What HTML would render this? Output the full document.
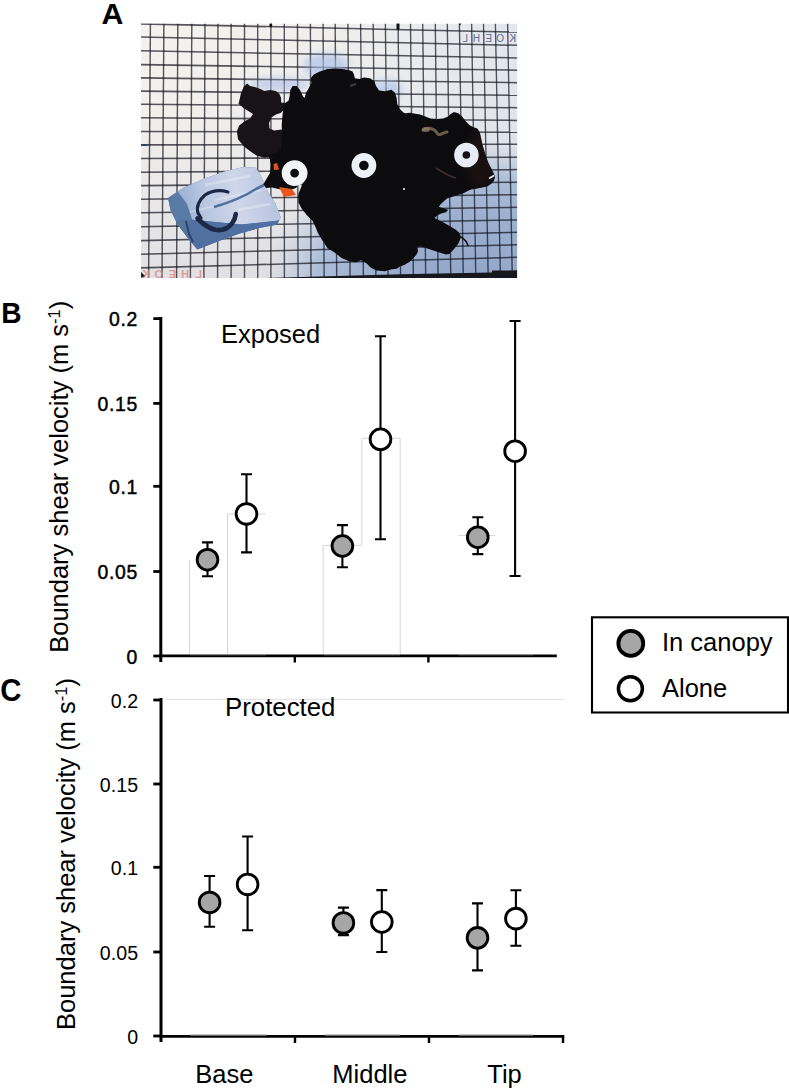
<!DOCTYPE html>
<html><head><meta charset="utf-8"><style>
html,body{margin:0;padding:0;background:#fff;}
svg{display:block;}
</style></head><body>
<svg width="789" height="1089" viewBox="0 0 789 1089">
<rect width="789" height="1089" fill="#fff"/>

<defs>
 <clipPath id="pc"><rect x="141" y="23.6" width="376.29999999999995" height="254.4"/></clipPath>
 <linearGradient id="paper" x1="0" y1="0" x2="1" y2="0">
  <stop offset="0" stop-color="#f4f2ee"/>
  <stop offset="0.5" stop-color="#f0efed"/>
  <stop offset="1" stop-color="#e2e6ee"/>
 </linearGradient>
 <linearGradient id="paperv" x1="0" y1="0" x2="0" y2="1">
  <stop offset="0" stop-color="#c6c6d4" stop-opacity="0"/>
  <stop offset="0.3" stop-color="#c6c6d4" stop-opacity="0.02"/>
  <stop offset="1" stop-color="#c6c6d4" stop-opacity="0.4"/>
 </linearGradient>
 <radialGradient id="bluetint" gradientUnits="userSpaceOnUse" cx="0" cy="0" r="1" gradientTransform="translate(470 285) scale(205 145)">
  <stop offset="0" stop-color="#90a5c9" stop-opacity="1"/>
  <stop offset="0.5" stop-color="#9db0d0" stop-opacity="1"/>
  <stop offset="0.75" stop-color="#a9bcd8" stop-opacity="0.95"/>
  <stop offset="0.88" stop-color="#b8c6dc" stop-opacity="0.5"/>
  <stop offset="1" stop-color="#c8d2e2" stop-opacity="0"/>
 </radialGradient>
 <linearGradient id="foilg" x1="0" y1="0" x2="1" y2="1">
  <stop offset="0" stop-color="#5f80b0"/>
  <stop offset="1" stop-color="#4d6e9f"/>
 </linearGradient>
 <linearGradient id="foilup" gradientUnits="userSpaceOnUse" x1="170" y1="200" x2="280" y2="180">
  <stop offset="0" stop-color="#8da7cf"/>
  <stop offset="0.3" stop-color="#b9c7e1"/>
  <stop offset="0.6" stop-color="#cfd6e9"/>
  <stop offset="1" stop-color="#b3c2de"/>
 </linearGradient>
 <filter id="blur3" x="-50%" y="-50%" width="200%" height="200%"><feGaussianBlur stdDeviation="4"/></filter>
 <filter id="blur1"><feGaussianBlur stdDeviation="0.6"/></filter>
</defs>
<g clip-path="url(#pc)">
 <rect x="141" y="23.6" width="376.29999999999995" height="254.4" fill="url(#paper)"/>
 <rect x="141" y="23.6" width="376.29999999999995" height="254.4" fill="url(#paperv)"/>
 <rect x="141" y="23.6" width="376.29999999999995" height="254.4" fill="url(#bluetint)"/>
 <g filter="url(#blur3)" fill="#b4c5e6" opacity="0.95">
  <ellipse cx="326" cy="66" rx="22" ry="11"/>
  <ellipse cx="280" cy="84" rx="30" ry="5"/>
  <ellipse cx="388" cy="90" rx="14" ry="8"/>
 </g>
 <g stroke="#0a0c16" stroke-opacity="0.68" fill="none"><path d="M150.4 23.6L148.6 278.0" stroke-width="1.45"/><path d="M163.9 23.6L162.0 278.0" stroke-width="1.45"/><path d="M177.8 23.6L176.6 278.0" stroke-width="1.44"/><path d="M191.8 23.6L190.4 278.0" stroke-width="1.44"/><path d="M205.0 23.6L203.9 278.0" stroke-width="1.44"/><path d="M217.9 23.6L217.6 278.0" stroke-width="1.43"/><path d="M231.1 23.6L231.1 278.0" stroke-width="1.43"/><path d="M244.5 23.6L244.5 278.0" stroke-width="1.43"/><path d="M257.7 23.6L257.7 278.0" stroke-width="1.42"/><path d="M270.9 23.6L270.9 278.0" stroke-width="1.42"/><path d="M284.3 23.6L284.4 278.0" stroke-width="1.41"/><path d="M297.5 23.6L298.0 278.0" stroke-width="1.41"/><path d="M310.4 23.6L311.0 278.0" stroke-width="1.41"/><path d="M323.1 23.6L324.1 278.0" stroke-width="1.40"/><path d="M335.2 23.6L336.7 278.0" stroke-width="1.40"/><path d="M347.9 23.6L350.1 278.0" stroke-width="1.40"/><path d="M360.6 23.6L363.4 278.0" stroke-width="1.39"/><path d="M373.2 23.6L375.9 278.0" stroke-width="1.39"/><path d="M385.4 23.6L388.1 278.0" stroke-width="1.39"/><path d="M398.1 23.6L400.6 278.0" stroke-width="1.38"/><path d="M410.5 23.6L413.4 278.0" stroke-width="1.38"/><path d="M422.7 23.6L425.7 278.0" stroke-width="1.38"/><path d="M435.3 23.6L438.1 278.0" stroke-width="1.37"/><path d="M447.3 23.6L450.8 278.0" stroke-width="1.37"/><path d="M459.4 23.6L463.3 278.0" stroke-width="1.36"/><path d="M471.6 23.6L475.8 278.0" stroke-width="1.36"/><path d="M483.5 23.6L488.2 278.0" stroke-width="1.36"/><path d="M495.4 23.6L500.4 278.0" stroke-width="1.35"/><path d="M507.6 23.6L512.3 278.0" stroke-width="1.35"/><path d="M141.0 23.9L266.4 26.6" stroke-width="1.6"/><path d="M266.4 26.6L391.9 29.4" stroke-width="1.55"/><path d="M391.9 29.4L517.3 32.1" stroke-width="1.5"/><path d="M141.0 37.0L266.4 39.8" stroke-width="1.6"/><path d="M266.4 39.8L391.9 42.5" stroke-width="1.55"/><path d="M391.9 42.5L517.3 45.3" stroke-width="1.5"/><path d="M141.0 50.8L266.4 53.2" stroke-width="1.6"/><path d="M266.4 53.2L391.9 55.5" stroke-width="1.55"/><path d="M391.9 55.5L517.3 57.9" stroke-width="1.5"/><path d="M141.0 64.6L266.4 66.5" stroke-width="1.6"/><path d="M266.4 66.5L391.9 68.4" stroke-width="1.55"/><path d="M391.9 68.4L517.3 70.2" stroke-width="1.5"/><path d="M141.0 77.9L266.4 79.5" stroke-width="1.6"/><path d="M266.4 79.5L391.9 81.1" stroke-width="1.55"/><path d="M391.9 81.1L517.3 82.7" stroke-width="1.5"/><path d="M141.0 91.1L266.4 92.5" stroke-width="1.6"/><path d="M266.4 92.5L391.9 93.9" stroke-width="1.55"/><path d="M391.9 93.9L517.3 95.3" stroke-width="1.5"/><path d="M141.0 104.2L266.4 105.4" stroke-width="1.6"/><path d="M266.4 105.4L391.9 106.5" stroke-width="1.55"/><path d="M391.9 106.5L517.3 107.7" stroke-width="1.5"/><path d="M141.0 117.8L266.4 118.7" stroke-width="1.6"/><path d="M266.4 118.7L391.9 119.5" stroke-width="1.55"/><path d="M391.9 119.5L517.3 120.4" stroke-width="1.5"/><path d="M141.0 131.5L266.4 131.7" stroke-width="1.6"/><path d="M266.4 131.7L391.9 132.0" stroke-width="1.55"/><path d="M391.9 132.0L517.3 132.2" stroke-width="1.5"/><path d="M141.0 144.9L266.4 144.7" stroke-width="1.6"/><path d="M266.4 144.7L391.9 144.4" stroke-width="1.55"/><path d="M391.9 144.4L517.3 144.2" stroke-width="1.5"/><path d="M141.0 158.5L266.4 158.1" stroke-width="1.6"/><path d="M266.4 158.1L391.9 157.7" stroke-width="1.55"/><path d="M391.9 157.7L517.3 157.3" stroke-width="1.5"/><path d="M141.0 172.2L266.4 171.3" stroke-width="1.6"/><path d="M266.4 171.3L391.9 170.5" stroke-width="1.55"/><path d="M391.9 170.5L517.3 169.6" stroke-width="1.5"/><path d="M141.0 185.6L266.4 184.5" stroke-width="1.6"/><path d="M266.4 184.5L391.9 183.4" stroke-width="1.55"/><path d="M391.9 183.4L517.3 182.3" stroke-width="1.5"/><path d="M141.0 199.2L266.4 197.7" stroke-width="1.6"/><path d="M266.4 197.7L391.9 196.2" stroke-width="1.55"/><path d="M391.9 196.2L517.3 194.7" stroke-width="1.5"/><path d="M141.0 212.8L266.4 211.0" stroke-width="1.6"/><path d="M266.4 211.0L391.9 209.1" stroke-width="1.55"/><path d="M391.9 209.1L517.3 207.3" stroke-width="1.5"/><path d="M141.0 226.7L266.4 224.4" stroke-width="1.6"/><path d="M266.4 224.4L391.9 222.2" stroke-width="1.55"/><path d="M391.9 222.2L517.3 219.9" stroke-width="1.5"/><path d="M141.0 240.6L266.4 237.8" stroke-width="1.6"/><path d="M266.4 237.8L391.9 235.1" stroke-width="1.55"/><path d="M391.9 235.1L517.3 232.3" stroke-width="1.5"/><path d="M141.0 254.2L266.4 251.0" stroke-width="1.6"/><path d="M266.4 251.0L391.9 247.8" stroke-width="1.55"/><path d="M391.9 247.8L517.3 244.7" stroke-width="1.5"/><path d="M141.0 267.9L266.4 264.4" stroke-width="1.6"/><path d="M266.4 264.4L391.9 260.8" stroke-width="1.55"/><path d="M391.9 260.8L517.3 257.3" stroke-width="1.5"/></g>
 <g filter="url(#blur3)" fill="#c8d4ee" opacity="0.6">
  <ellipse cx="326" cy="65" rx="20" ry="9"/>
  <ellipse cx="275" cy="86" rx="32" ry="5"/>
  <ellipse cx="384" cy="86" rx="14" ry="6"/>
 </g>
 <path d="M265 277.9 L400 274.2 L492 272.6 L492 270.6 L517.3 270.3 L517.3 278.3 L265 278.3Z" fill="#17181e"/>
 <g fill="#111" >
  <path d="M269.5 23.3h2.6v3.6h-2.6z"/>
  <path d="M396.5 23.3h3v6.5h-3z"/>
  <path d="M458.5 23.3h3l-1.5 2.2z"/>
 </g>
 <path d="M141 144.3h6.5v1.6h-6.5z" fill="#2b3f6e"/>
 <g font-family="Liberation Sans, sans-serif" font-size="10" fill="#5d6a95" transform="translate(980 0) scale(-1 1)">
  <text x="464" y="42">K</text><text x="476" y="42">O</text><text x="488" y="42">E</text><text x="500" y="42">H</text><text x="512" y="42">L</text>
 </g>
 <g font-family="Liberation Sans, sans-serif" font-size="11" font-weight="bold" fill="#d98a80" opacity="0.8" transform="translate(346 0) scale(-1 1)">
  <text x="196" y="277.5">K</text><text x="183" y="277.5">O</text><text x="170" y="277.5">E</text><text x="157" y="277.5">H</text><text x="144" y="277.5">L</text>
 </g>
 <path d="M141 272 L145 276 L141 278Z" fill="#222"/>
 <path d="M168.0 197.9L183.0 188.1L204.4 178.4L225.6 171.3L243.4 166.9L255.8 167.7L259.4 173.0L264.7 183.7L268.2 192.6L275.3 203.2L280.7 217.4L277.1 224.5L259.4 228.0L239.8 233.4L220.3 240.5L204.4 246.7L197.3 249.4L188.4 238.7L177.7 224.5L170.6 210.3Z" fill="url(#foilg)"/>
 <clipPath id="fc"><path d="M168.0 197.9L183.0 188.1L204.4 178.4L225.6 171.3L243.4 166.9L255.8 167.7L259.4 173.0L264.7 183.7L268.2 192.6L275.3 203.2L280.7 217.4L277.1 224.5L259.4 228.0L239.8 233.4L220.3 240.5L204.4 246.7L197.3 249.4L188.4 238.7L177.7 224.5L170.6 210.3Z"/></clipPath>
 <g clip-path="url(#fc)">
  <path d="M160 160 L290 160 L290 219 L270 221.5 L242 224.5 L210 221.5 L190 219.5 L160 222Z" fill="url(#foilup)"/>
  <g stroke="#eef3fb" fill="none" opacity="0.4" filter="url(#blur1)">
   <path d="M205 185 L250 176" stroke-width="2.5"/>
   <path d="M215 200 L262 190" stroke-width="2"/>
   <path d="M238 210 L270 204" stroke-width="2.5"/>
   <path d="M190 212 L215 206" stroke-width="1.5"/>
  </g>
  <path d="M160 222 L190 219.5 L210 221.5 L242 224.5 L270 221.5 L290 219 L290 260 L160 260Z" fill="#4f70a1"/>
  <path d="M160 190 L178 192 L187 204 L192 219 L188 240 L160 240Z" fill="#53749f" opacity="0.9" filter="url(#blur1)"/>
  <path d="M186 221 L189 234 L193 242" stroke="#2c3f66" stroke-width="1.8" fill="none"/>
  <path d="M214 207 C228 203 242 198 256 189 L268 183" stroke="#3e6090" stroke-width="2.6" opacity="0.85" fill="none" filter="url(#blur1)"/>
 </g>
 <path d="M228 192 C220 189.5 212 190.5 205 195 C199 200 196 207 198 213 L201 218" stroke="#1d2845" stroke-width="3.2" fill="none" stroke-linecap="round"/>
 <path d="M197.5 218.5 C203 224 208 228 215 229.8 C222 231 228 228.5 232 223.5 C234.5 220 235.5 217 235.8 214" stroke="#1d2845" stroke-width="4.6" fill="none" stroke-linecap="round"/>
 <path d="M240.9 93.4L243.8 86.5L247.2 83.6L250.1 85.9L254.7 87.1L259.8 88.8L264.4 91.1L270.2 89.9L275.9 91.1L279.4 93.9L281.1 98.0L281.1 102.6L285.1 103.1L284.0 110.0L280.5 112.9L275.9 114.6L271.3 117.5L269.0 123.2L269.5 128.5L274.0 130.5L282.0 129.5L283.0 140.0L282.0 150.0L279.5 154.0L275.9 155.4L271.3 157.1L264.4 157.7L256.4 155.4L249.5 150.8L243.8 146.2L238.0 139.3L236.9 131.3L239.2 125.5L245.0 121.0L250.0 118.6L253.0 114.0L249.5 111.7L243.8 108.3L238.6 103.7Z" fill="#171316"/>
 <path d="M285.1 103.1L288.5 100.8L289.7 95.7L290.3 89.9L292.6 85.9L296.6 85.9L300.0 89.9L302.9 96.2L304.6 98.0L306.0 92.7L309.1 87.4L311.4 82.8L310.6 78.3L313.7 74.4L319.8 71.4L327.4 69.1L335.0 68.4L342.6 69.1L348.7 69.9L352.5 71.4L354.0 74.4L354.8 78.3L359.3 79.0L363.9 77.5L370.0 78.3L374.5 81.3L376.0 85.9L379.1 90.4L385.2 91.2L391.3 89.7L395.0 92.7L396.6 98.0L397.3 104.1L399.6 108.7L403.4 112.5L405.1 113.3L410.1 112.7L415.2 113.7L420.3 114.6L425.3 116.5L430.4 118.4L436.8 119.0L443.1 118.4L448.2 116.5L450.7 113.9L453.9 112.0L458.3 113.3L462.1 116.5L465.9 121.5L469.7 125.3L473.5 127.2L477.3 128.5L479.8 132.3L481.1 138.0L482.4 144.4L484.3 150.7L486.2 157.0L488.7 163.4L491.3 168.4L493.8 173.5L495.0 177.3L493.8 181.1L491.3 183.7L487.5 186.2L482.4 187.5L476.0 188.7L471.0 189.4L467.2 191.3L463.0 193.4L453.9 196.3L447.0 198.6L443.6 201.4L440.2 204.8L439.0 207.1L443.6 208.3L448.2 210.0L445.9 212.2L441.3 213.4L437.9 215.1L434.5 217.9L437.9 219.7L443.6 222.5L450.5 226.5L456.2 229.9L459.6 233.3L460.7 237.9L458.4 243.6L453.9 249.3L449.3 253.9L445.9 254.4L440.2 252.7L433.3 250.5L426.5 248.2L420.8 246.5L417.4 247.0L418.0 251.6L416.2 255.0L412.8 258.4L409.4 261.9L403.7 265.3L400.0 266.4L396.8 268.7L391.8 269.2L384.8 271.3L376.4 270.6L370.9 267.8L366.7 263.6L361.1 260.2L355.5 262.3L348.6 260.9L341.6 258.1L334.6 252.5L327.6 248.3L322.1 240.0L317.9 233.0L315.1 226.0L312.3 220.4L306.7 214.9L301.2 207.9L298.4 202.3L298.4 193.9L301.2 187.0L303.9 180.0L296.0 188.0L290.0 190.0L282.0 189.8L272.0 187.5L266.0 188.0L263.5 184.0L267.0 178.0L270.0 173.0L271.0 165.0L269.5 158.0L267.0 155.5L276.0 153.0L281.0 150.0L282.0 135.0L281.7 125.0L282.5 115.0L283.5 108.0Z" fill="#0c0c0f"/>
 <clipPath id="bc"><path d="M285.1 103.1L288.5 100.8L289.7 95.7L290.3 89.9L292.6 85.9L296.6 85.9L300.0 89.9L302.9 96.2L304.6 98.0L306.0 92.7L309.1 87.4L311.4 82.8L310.6 78.3L313.7 74.4L319.8 71.4L327.4 69.1L335.0 68.4L342.6 69.1L348.7 69.9L352.5 71.4L354.0 74.4L354.8 78.3L359.3 79.0L363.9 77.5L370.0 78.3L374.5 81.3L376.0 85.9L379.1 90.4L385.2 91.2L391.3 89.7L395.0 92.7L396.6 98.0L397.3 104.1L399.6 108.7L403.4 112.5L405.1 113.3L410.1 112.7L415.2 113.7L420.3 114.6L425.3 116.5L430.4 118.4L436.8 119.0L443.1 118.4L448.2 116.5L450.7 113.9L453.9 112.0L458.3 113.3L462.1 116.5L465.9 121.5L469.7 125.3L473.5 127.2L477.3 128.5L479.8 132.3L481.1 138.0L482.4 144.4L484.3 150.7L486.2 157.0L488.7 163.4L491.3 168.4L493.8 173.5L495.0 177.3L493.8 181.1L491.3 183.7L487.5 186.2L482.4 187.5L476.0 188.7L471.0 189.4L467.2 191.3L463.0 193.4L453.9 196.3L447.0 198.6L443.6 201.4L440.2 204.8L439.0 207.1L443.6 208.3L448.2 210.0L445.9 212.2L441.3 213.4L437.9 215.1L434.5 217.9L437.9 219.7L443.6 222.5L450.5 226.5L456.2 229.9L459.6 233.3L460.7 237.9L458.4 243.6L453.9 249.3L449.3 253.9L445.9 254.4L440.2 252.7L433.3 250.5L426.5 248.2L420.8 246.5L417.4 247.0L418.0 251.6L416.2 255.0L412.8 258.4L409.4 261.9L403.7 265.3L400.0 266.4L396.8 268.7L391.8 269.2L384.8 271.3L376.4 270.6L370.9 267.8L366.7 263.6L361.1 260.2L355.5 262.3L348.6 260.9L341.6 258.1L334.6 252.5L327.6 248.3L322.1 240.0L317.9 233.0L315.1 226.0L312.3 220.4L306.7 214.9L301.2 207.9L298.4 202.3L298.4 193.9L301.2 187.0L303.9 180.0L296.0 188.0L290.0 190.0L282.0 189.8L272.0 187.5L266.0 188.0L263.5 184.0L267.0 178.0L270.0 173.0L271.0 165.0L269.5 158.0L267.0 155.5L276.0 153.0L281.0 150.0L282.0 135.0L281.7 125.0L282.5 115.0L283.5 108.0Z"/></clipPath>
 <g clip-path="url(#bc)">
  <ellipse cx="480" cy="160" rx="16" ry="28" fill="#3a1a16" opacity="0.3" filter="url(#blur3)"/>
  <path d="M423 130 C428 127 434 128 437 133 C439 137 441 133 447 132" stroke="#7a6a55" stroke-width="3" fill="none" opacity="0.85" stroke-linecap="round"/>
  <ellipse cx="426" cy="129.5" rx="4" ry="2.5" fill="#8a7a62" opacity="0.8"/>
  <path d="M436 168 C442 172 448 176 456 178" stroke="#4a3a30" stroke-width="1.6" fill="none" opacity="0.8"/>
  <path d="M350 86 L356 84" stroke="#5a5048" stroke-width="2" fill="none" opacity="0.7"/>
 </g>
 <path d="M459.5 236 C463 238 466.5 240.5 468 245.5" stroke="#1a0e10" stroke-width="1.6" fill="none" stroke-linecap="round"/>
 <circle cx="404" cy="189" r="1.1" fill="#e8eef8"/>
 <path d="M489 178.5 L494 175.5" stroke="#e8eef8" stroke-width="1.6"/>
 <path d="M273.5 164 L277 163 L279 169.5 L274 170Z" fill="#e2541c"/>
 <path d="M279 187 L292 189 L296 195 L284 197Z" fill="#e8561c"/>
 <g>
  <circle cx="294.6" cy="173.1" r="8.65" fill="none" stroke="#f3f4f8" stroke-width="8.5"/>
  <circle cx="363.9" cy="165.5" r="8.6" fill="none" stroke="#eef0f8" stroke-width="7.6"/>
  <circle cx="466.4" cy="155" r="8.05" fill="none" stroke="#e6ebf6" stroke-width="8.5"/>
 </g>
</g>


<g font-family='"Liberation Sans", sans-serif' fill="#000">
 <text transform="translate(1.2 323) scale(0.95 1.02)" font-size="29.6" font-weight="bold">B</text>
 <text transform="translate(0.3 700.6) scale(0.99 1.08)" font-size="29.6" font-weight="bold">C</text>
 <text x="101.6" y="24.4" font-size="30.3" font-weight="bold">A</text>
 <g stroke="#d6d6d6" stroke-width="1" fill="none">
<path d="M189.5 655V560M227.5 655V514H265.5"/>
<path d="M323.1 655V545.4H361.8V438.3H400.2V655"/>
<path d="M458.4 535.5H495"/>
</g>
 <path d="M160.8 317V662" stroke="#000" stroke-width="3"/>
 <path d="M159.5 655.8H556.8" stroke="#000" stroke-width="2.8"/>
 <path d="M294.8 655V662.5M428.4 655V662.5" stroke="#000" stroke-width="2.4"/>
 <path d="M190 654.6H266M324 654.6H400M458.5 654.6H533" stroke="#8c8c8c" stroke-width="1.3"/>
 <path d="M153.3 318.6H161" stroke="#000" stroke-width="2.8"/><text x="138.1" y="326.45" text-anchor="end" font-size="19.4" letter-spacing="0.7" stroke="#000" stroke-width="0.45">0.2</text><path d="M153.3 403.4H161" stroke="#000" stroke-width="2.8"/><text x="138.1" y="411.25" text-anchor="end" font-size="19.4" letter-spacing="0.7" stroke="#000" stroke-width="0.45">0.15</text><path d="M153.3 486.3H161" stroke="#000" stroke-width="2.8"/><text x="138.1" y="494.15" text-anchor="end" font-size="19.4" letter-spacing="0.7" stroke="#000" stroke-width="0.45">0.1</text><path d="M153.3 571.5H161" stroke="#000" stroke-width="2.8"/><text x="138.1" y="579.35" text-anchor="end" font-size="19.4" letter-spacing="0.7" stroke="#000" stroke-width="0.45">0.05</text><path d="M153.3 656H161" stroke="#000" stroke-width="2.8"/><text x="138.1" y="663.85" text-anchor="end" font-size="19.4" letter-spacing="0.7" stroke="#000" stroke-width="0.45">0</text>
 <text x="221" y="342.8" font-size="25.5">Exposed</text>
 <text transform="translate(68.3 652.8) rotate(-90)" font-size="25.5">Boundary shear velocity (m s<tspan font-size="16.5" dy="-8.6">-1</tspan><tspan dy="8.6">)</tspan></text>
 <path d="M207.5 542.4V576.2M202.0 542.4H213.0M202.0 576.2H213.0" stroke="#000" stroke-width="2.1" fill="none"/><path d="M246.5 474.2V552.4M241.0 474.2H252.0M241.0 552.4H252.0" stroke="#000" stroke-width="2.1" fill="none"/><path d="M342.4 525.1V567.3M336.9 525.1H347.9M336.9 567.3H347.9" stroke="#000" stroke-width="2.1" fill="none"/><path d="M380.5 336.2V539.2M375.0 336.2H386.0M375.0 539.2H386.0" stroke="#000" stroke-width="2.1" fill="none"/><path d="M477.8 517.2V554.1M472.3 517.2H483.3M472.3 554.1H483.3" stroke="#000" stroke-width="2.1" fill="none"/><path d="M515.1 321V576M509.6 321H520.6M509.6 576H520.6" stroke="#000" stroke-width="2.1" fill="none"/><circle cx="207.5" cy="559.7" r="10.35" fill="#a6a6a6" stroke="#000" stroke-width="2.85"/><circle cx="246.5" cy="513.9" r="10.35" fill="#fff" stroke="#000" stroke-width="2.85"/><circle cx="342.4" cy="546" r="10.35" fill="#a6a6a6" stroke="#000" stroke-width="2.85"/><circle cx="380.5" cy="439.3" r="10.35" fill="#fff" stroke="#000" stroke-width="2.85"/><circle cx="477.8" cy="537.2" r="10.35" fill="#a6a6a6" stroke="#000" stroke-width="2.85"/><circle cx="515.1" cy="451.2" r="10.35" fill="#fff" stroke="#000" stroke-width="2.85"/>

 <path d="M165 699.3H564" stroke="#dedede" stroke-width="1"/>
 <path d="M161 698V1042" stroke="#000" stroke-width="3"/>
 <path d="M159.5 1036.3H564.2" stroke="#000" stroke-width="2.8"/>
 <path d="M295 1036V1043M429 1036V1043M563 1036V1043" stroke="#000" stroke-width="2.4"/>
 <path d="M190.4 1035.1H266.5M324.8 1035.1H400M458.5 1035.1H533" stroke="#8c8c8c" stroke-width="1.3"/>
 <path d="M153.3 700H161" stroke="#000" stroke-width="2.8"/><text x="138.29999999999998" y="708.02" text-anchor="end" font-size="19.6" letter-spacing="0.1" stroke="#000" stroke-width="0">0.2</text><path d="M153.3 784H161" stroke="#000" stroke-width="2.8"/><text x="138.29999999999998" y="792.02" text-anchor="end" font-size="19.6" letter-spacing="0.1" stroke="#000" stroke-width="0">0.15</text><path d="M153.3 867.3H161" stroke="#000" stroke-width="2.8"/><text x="138.29999999999998" y="875.32" text-anchor="end" font-size="19.6" letter-spacing="0.1" stroke="#000" stroke-width="0">0.1</text><path d="M153.3 952H161" stroke="#000" stroke-width="2.8"/><text x="138.29999999999998" y="960.02" text-anchor="end" font-size="19.6" letter-spacing="0.1" stroke="#000" stroke-width="0">0.05</text><path d="M153.3 1036H161" stroke="#000" stroke-width="2.8"/><text x="138.29999999999998" y="1044.02" text-anchor="end" font-size="19.6" letter-spacing="0.1" stroke="#000" stroke-width="0">0</text>
 <text x="225" y="715.7" font-size="25.8">Protected</text>
 <text transform="translate(75.1 1030.0) rotate(-90)" font-size="25.5">Boundary shear velocity (m s<tspan font-size="16.5" dy="-8.6">-1</tspan><tspan dy="8.6">)</tspan></text>
 <path d="M209.6 876V926.7M204.1 876H215.1M204.1 926.7H215.1" stroke="#000" stroke-width="2.1" fill="none"/><path d="M247.6 836.5V930.2M242.1 836.5H253.1M242.1 930.2H253.1" stroke="#000" stroke-width="2.1" fill="none"/><path d="M343.4 907.6V935.1M337.9 907.6H348.9M337.9 935.1H348.9" stroke="#000" stroke-width="2.1" fill="none"/><path d="M381.8 890.1V952M376.3 890.1H387.3M376.3 952H387.3" stroke="#000" stroke-width="2.1" fill="none"/><path d="M477.5 903.4V970.4M472.0 903.4H483.0M472.0 970.4H483.0" stroke="#000" stroke-width="2.1" fill="none"/><path d="M515.9 890.3V945.7M510.4 890.3H521.4M510.4 945.7H521.4" stroke="#000" stroke-width="2.1" fill="none"/><circle cx="209.6" cy="902.4" r="10.35" fill="#a6a6a6" stroke="#000" stroke-width="2.85"/><circle cx="247.6" cy="884.4" r="10.35" fill="#fff" stroke="#000" stroke-width="2.85"/><circle cx="343.4" cy="922.9" r="10.35" fill="#a6a6a6" stroke="#000" stroke-width="2.85"/><circle cx="381.8" cy="922" r="10.35" fill="#fff" stroke="#000" stroke-width="2.85"/><circle cx="477.5" cy="937.8" r="10.35" fill="#a6a6a6" stroke="#000" stroke-width="2.85"/><circle cx="515.9" cy="918.6" r="10.35" fill="#fff" stroke="#000" stroke-width="2.85"/>
 <text x="224.3" y="1083.3" font-size="25.5" text-anchor="middle">Base</text>
 <text x="369.9" y="1082.6" font-size="25.5" text-anchor="middle">Middle</text>
 <text x="504.5" y="1082.6" font-size="25.5" text-anchor="middle">Tip</text>

 <rect x="592" y="617.3" width="196" height="95.2" fill="#fff" stroke="#000" stroke-width="2.1"/>
 <circle cx="630.8" cy="643.4" r="12.45" fill="#a6a6a6" stroke="#000" stroke-width="3.8"/>
 <circle cx="630.4" cy="688.8" r="12" fill="#fff" stroke="#000" stroke-width="3.5"/>
 <text x="662" y="651.4" font-size="25.5">In canopy</text>
 <text x="662" y="696.9" font-size="25.5">Alone</text>
</g>

</svg>
</body></html>
